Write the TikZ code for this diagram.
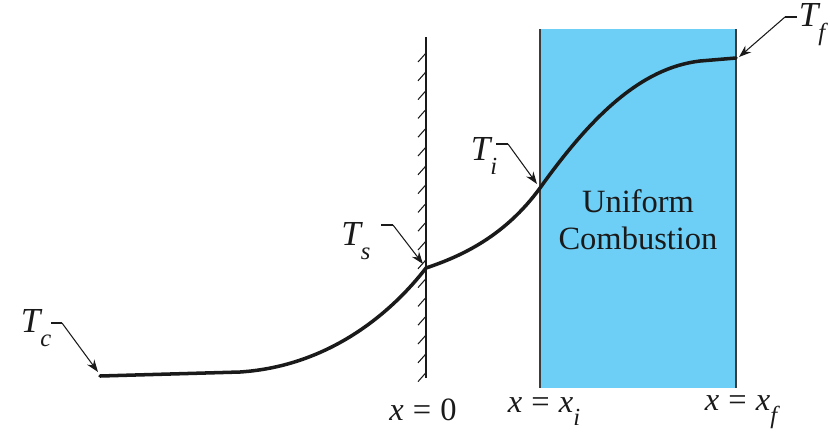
\documentclass[tikz,border=0pt]{standalone}
\usepackage{fontspec}
\setmainfont{Liberation Serif}
\usepackage{tikz}
\usetikzlibrary{arrows.meta,calc}
\definecolor{flame}{HTML}{6DCFF6}
\definecolor{ink}{HTML}{1A1A1A}
\newcommand{\lowsub}[1]{\raisebox{-0.4em}{\fontsize{14}{14}\selectfont\itshape #1}}
\newcommand{\eqsign}{\hspace{0.28em}=\hspace{0.28em}}
\tikzset{
  templabel/.style={font=\fontsize{20}{22}\selectfont\itshape,text=ink,inner sep=0pt},
  poslabel/.style={font=\fontsize{18.5}{21}\selectfont,text=ink,inner sep=0pt},
  leadline/.style={line width=0.6pt,color=ink},
  leadarr/.style={-{Stealth[length=7pt,width=5pt]},line width=0.6pt,color=ink},
  profile/.style={line width=2pt,color=ink,line cap=round},
}

\begin{document}
\begin{tikzpicture}[x=0.02cm,y=-0.02cm]
  \useasboundingbox (0,0) rectangle (830,437);

  % combustion zone
  \fill[flame] (540,29) rectangle (736,388);
  \draw[line width=1pt,color=ink!85] (540,29) -- (540,388);
  \draw[line width=1pt,color=ink!85] (736,29) -- (736,388);
  \node[poslabel,align=center] (zone) at (638,220) {Uniform\\Combustion};

  % wall
  \draw[line width=1.1pt,color=ink] (426,37) -- (426,378);
  \foreach \k in {0,...,17}
    \draw[line width=0.6pt,color=ink] (418,53+\k*18.8+9) -- (426,53+\k*18.8);

  % temperature profile
  \coordinate (pc) at (100,376);
  \coordinate (ps) at (426,268);
  \coordinate (pi) at (540,188);
  \coordinate (pf) at (736,58);
  \draw[profile] (pc) -- (240,372) .. controls (330,366) and (392,312) .. (ps)
    .. controls (462,256) and (505,236) .. (pi)
    .. controls (590,118) and (640,68) .. (700,61)
    .. controls (718,59) .. (pf);

  % labels with leaders
  \node[templabel] (tc) at (36,328) {T\lowsub{c}};
  \coordinate (tcl) at (62,323);
  \draw[leadline] (51,323) -- (tcl);
  \draw[leadarr] (tcl) -- ($(pc)+(-2,-4)$);

  \node[templabel] (ts) at (356,241) {T\lowsub{s}};
  \coordinate (tsl) at (393,225);
  \draw[leadline] (381,225) -- (tsl);
  \draw[leadarr] (tsl) -- ($(ps)+(-3,-4)$);

  \node[templabel] (ti) at (484,156) {T\lowsub{i}};
  \coordinate (til) at (508,144);
  \draw[leadline] (496,144) -- (til);
  \draw[leadarr] (til) -- ($(pi)+(-3,-4)$);

  \node[templabel] (tf) at (812,25) {T\lowsub{f}};
  \coordinate (tfl) at (785,17);
  \draw[leadline] (797,17) -- (tfl);
  \draw[leadarr] (tfl) -- ($(pf)+(3,-1)$);

  % positions
  \node[poslabel] (x0) at (423,410) {\textit{x}\eqsign 0};
  \node[poslabel] (xi) at (544,412) {\textit{x}\eqsign\textit{x}\lowsub{i}};
  \node[poslabel] (xf) at (741,412) {\textit{x}\eqsign\textit{x}\lowsub{f}};
\end{tikzpicture}
\end{document}
